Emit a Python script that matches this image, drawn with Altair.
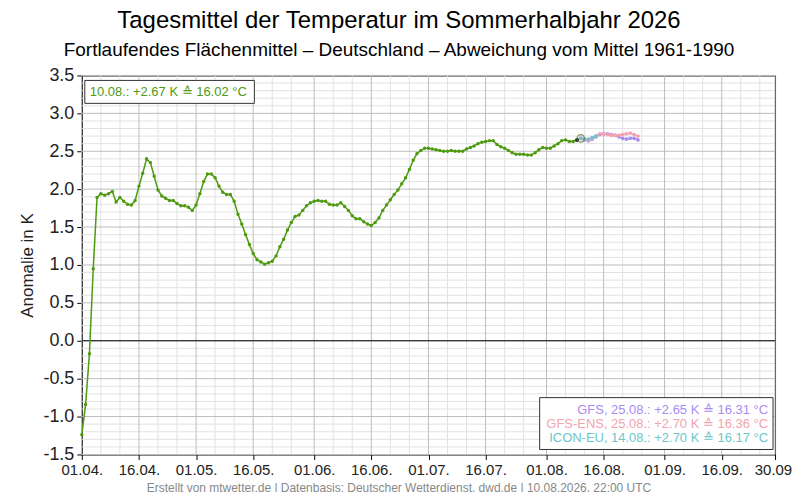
import altair as alt
import pandas as pd

FONT = "Liberation Sans"

# Observed anomaly (K), one value per day from 01.04. (day 0) to 10.08. (day 131)
obs_values = [
    -1.24, -0.84, -0.17, 0.95, 1.89, 1.94, 1.92, 1.94, 1.97, 1.83,
    1.89, 1.84, 1.80, 1.79, 1.85, 2.04, 2.21, 2.40, 2.35, 2.17,
    1.99, 1.91, 1.88, 1.85, 1.85, 1.81, 1.78, 1.78, 1.76, 1.72,
    1.79, 1.94, 2.10, 2.20, 2.20, 2.15, 2.04, 1.96, 1.93, 1.93,
    1.84, 1.67, 1.54, 1.40, 1.27, 1.15, 1.07, 1.04, 1.01, 1.03,
    1.05, 1.12, 1.24, 1.34, 1.46, 1.56, 1.64, 1.66, 1.72, 1.78,
    1.82, 1.84, 1.85, 1.84, 1.84, 1.80, 1.79, 1.79, 1.82, 1.77,
    1.72, 1.65, 1.61, 1.61, 1.57, 1.54, 1.52, 1.56, 1.62, 1.72,
    1.79, 1.86, 1.93, 1.99, 2.07, 2.15, 2.26, 2.38, 2.47, 2.51,
    2.54, 2.54, 2.53, 2.52, 2.51, 2.50, 2.50, 2.51, 2.50, 2.50,
    2.50, 2.53, 2.55, 2.57, 2.60, 2.62, 2.63, 2.64, 2.64, 2.59,
    2.56, 2.54, 2.51, 2.48, 2.46, 2.46, 2.46, 2.45, 2.45, 2.48,
    2.52, 2.55, 2.54, 2.54, 2.57, 2.60, 2.64, 2.65, 2.63, 2.63,
    2.65, 2.67,
]
# Forecasts, starting at 10.08. (day 131)
gfs_values = [2.67, 2.65, 2.64, 2.66, 2.69, 2.72, 2.73, 2.73, 2.72, 2.71,
              2.69, 2.67, 2.66, 2.67, 2.67, 2.65]
gfsens_values = [2.67, 2.66, 2.65, 2.67, 2.70, 2.73, 2.73, 2.72, 2.71, 2.71,
                 2.71, 2.72, 2.73, 2.74, 2.72, 2.70]
icon_values = [2.67, 2.66, 2.66, 2.68, 2.70]

series_names = ["GFS", "GFS-ENS", "ICON-EU"]
series_colors = ["#a98cf2", "#f2a3ae", "#6cc6cc"]
legend_lines = [
    "GFS, 25.08.: +2.65 K \u2259 16.31 \u00b0C",
    "GFS-ENS, 25.08.: +2.70 K \u2259 16.36 \u00b0C",
    "ICON-EU, 14.08.: +2.70 K \u2259 16.17 \u00b0C",
]
info_text = "10.08.: +2.67 K \u2259 16.02 \u00b0C"

tick_days = [0, 15, 30, 45, 61, 76, 91, 106, 122, 137, 153, 168, 182]
tick_labels = ["01.04.", "16.04.", "01.05.", "16.05.", "01.06.", "16.06.",
               "01.07.", "16.07.", "01.08.", "16.08.", "01.09.", "16.09.", "30.09."]
minor_days = [5, 10, 20, 25, 35, 40, 50, 55, 66, 71, 81, 86, 96, 101, 111, 116,
              127, 132, 142, 147, 158, 163, 173, 178]
y_major = [-1.5, -1.0, -0.5, 0.0, 0.5, 1.0, 1.5, 2.0, 2.5, 3.0, 3.5]
y_minor = [round(-1.5 + 0.1 * i, 1) for i in range(51)]
y_minor = [v for v in y_minor if v not in y_major]

GREEN = "#4e9a10"
W, H = 695, 380
START = 131

obs_df = pd.DataFrame({"day": list(range(len(obs_values))), "value": obs_values})
fc_rows = []
for name, vals in zip(series_names, [gfs_values, gfsens_values, icon_values]):
    for i, v in enumerate(vals):
        fc_rows.append({"day": START + i, "value": v, "series": name})
fc_df = pd.DataFrame(fc_rows)

xscale = alt.Scale(domain=[0, 182], nice=False, zero=False)
yscale = alt.Scale(domain=[-1.5, 3.5], nice=False, zero=False)

labels_js = "[" + ",".join("'%s'" % s for s in tick_labels) + "]"
days_js = "[" + ",".join(str(d) for d in tick_days) + "]"
xaxis = alt.Axis(values=tick_days, labelExpr=f"{labels_js}[indexof({days_js}, datum.value)]",
                 grid=False, domain=False, labelFlush=False, labelFontSize=15,
                 labelColor="#222", tickColor="#000", tickSize=5, labelPadding=3,
                 labelFont=FONT, title=None, labelOverlap=False)
yaxis = alt.Axis(values=y_major, labelExpr="replace(format(datum.value, '.1f'), '\u2212', '-')",
                 grid=False, domainColor="#000", tickColor="#000", tickSize=5,
                 labelFontSize=18, labelColor="#222", labelFont=FONT, labelPadding=3,
                 title="Anomalie in K", titleFontSize=17, titleFontWeight="normal",
                 titleFont=FONT, titleColor="#222", titlePadding=6)

def X(field="day"):
    return alt.X(f"{field}:Q", scale=xscale, axis=xaxis)

def Y(field="value"):
    return alt.Y(f"{field}:Q", scale=yscale, axis=yaxis)

minor_v = alt.Chart(pd.DataFrame({"day": minor_days})).mark_rule(color="#e2e2e2", strokeWidth=1).encode(x=X())
minor_h = alt.Chart(pd.DataFrame({"value": y_minor})).mark_rule(color="#e2e2e2", strokeWidth=1).encode(y=Y())
major_v = alt.Chart(pd.DataFrame({"day": tick_days})).mark_rule(color="#bdbdbd", strokeWidth=1).encode(x=X())
major_h = alt.Chart(pd.DataFrame({"value": y_major})).mark_rule(color="#bdbdbd", strokeWidth=1).encode(y=Y())
zero = alt.Chart(pd.DataFrame({"value": [0.0]})).mark_rule(color="#000", strokeWidth=1).encode(y=Y())

color_scale = alt.Scale(domain=series_names, range=series_colors)
fc_line = alt.Chart(fc_df).mark_line(strokeWidth=1.5).encode(
    x=X(), y=Y(), color=alt.Color("series:N", scale=color_scale, legend=None), detail="series:N")
fc_pts = alt.Chart(fc_df).mark_circle(size=14, opacity=1).encode(
    x=X(), y=Y(), color=alt.Color("series:N", scale=color_scale, legend=None))

obs_line = alt.Chart(obs_df).mark_line(color=GREEN, strokeWidth=1.5).encode(x=X(), y=Y())
obs_pts = alt.Chart(obs_df).mark_circle(color=GREEN, size=12, opacity=1).encode(x=X(), y=Y())
prev_pt = alt.Chart(obs_df.iloc[[-2]]).mark_circle(color="#333", size=16, opacity=1).encode(x=X(), y=Y())
last_ring = alt.Chart(obs_df.iloc[[-1]]).mark_point(shape="circle", filled=False, size=55,
                                                    stroke="#556b2f", strokeWidth=1.2).encode(x=X(), y=Y())

one = pd.DataFrame({"k": [0]})
info_box = alt.Chart(one).mark_rect(fill="white", stroke="#333", strokeWidth=1).encode(
    x=alt.value(3), x2=alt.value(173), y=alt.value(5), y2=alt.value(28))
info_txt = alt.Chart(pd.DataFrame({"t": [info_text]})).mark_text(
    align="left", baseline="middle", fontSize=13, font=FONT, color=GREEN).encode(
    x=alt.value(8), y=alt.value(16.5), text="t:N")

leg_box = alt.Chart(one).mark_rect(fill="white", stroke="#333", strokeWidth=1).encode(
    x=alt.value(459), x2=alt.value(693), y=alt.value(323), y2=alt.value(375))
leg_layers = []
for i, (txt, col) in enumerate(zip(legend_lines, series_colors)):
    leg_layers.append(
        alt.Chart(pd.DataFrame({"t": [txt]})).mark_text(
            align="right", baseline="middle", fontSize=13, font=FONT, color=col).encode(
            x=alt.value(688), y=alt.value(335.5 + 14 * i), text="t:N"))

title_df = pd.DataFrame({"t": ["Tagesmittel der Temperatur im Sommerhalbjahr 2026"]})
sub_df = pd.DataFrame({"t": ["Fortlaufendes Fl\u00e4chenmittel \u2013 Deutschland \u2013 Abweichung vom Mittel 1961-1990"]})
foot_df = pd.DataFrame({"t": ["Erstellt von mtwetter.de | Datenbasis: Deutscher Wetterdienst, dwd.de | 10.08.2026, 22:00 UTC"]})
title_t = alt.Chart(title_df).mark_text(fontSize=24, font=FONT, color="#000", baseline="middle", align="center").encode(
    x=alt.value(318), y=alt.value(-55), text="t:N")
sub_t = alt.Chart(sub_df).mark_text(fontSize=19, font=FONT, color="#000", baseline="middle", align="center").encode(
    x=alt.value(318), y=alt.value(-25), text="t:N")
foot_t = alt.Chart(foot_df).mark_text(fontSize=12, font=FONT, color="#888", baseline="middle", align="center").encode(
    x=alt.value(318), y=alt.value(414), text="t:N")

chart = alt.layer(
    minor_v, minor_h, major_v, major_h, zero,
    obs_line, obs_pts, fc_line, fc_pts, prev_pt, last_ring,
    info_box, info_txt, leg_box, *leg_layers, title_t, sub_t, foot_t,
).properties(
    width=W, height=H, autosize="none",
    padding={"left": 74, "top": 67, "right": 17, "bottom": 37},
    background="white",
).configure_view(stroke="#000", strokeWidth=1)

chart.save("out.html", embed_options={"renderer": "svg", "actions": False})
